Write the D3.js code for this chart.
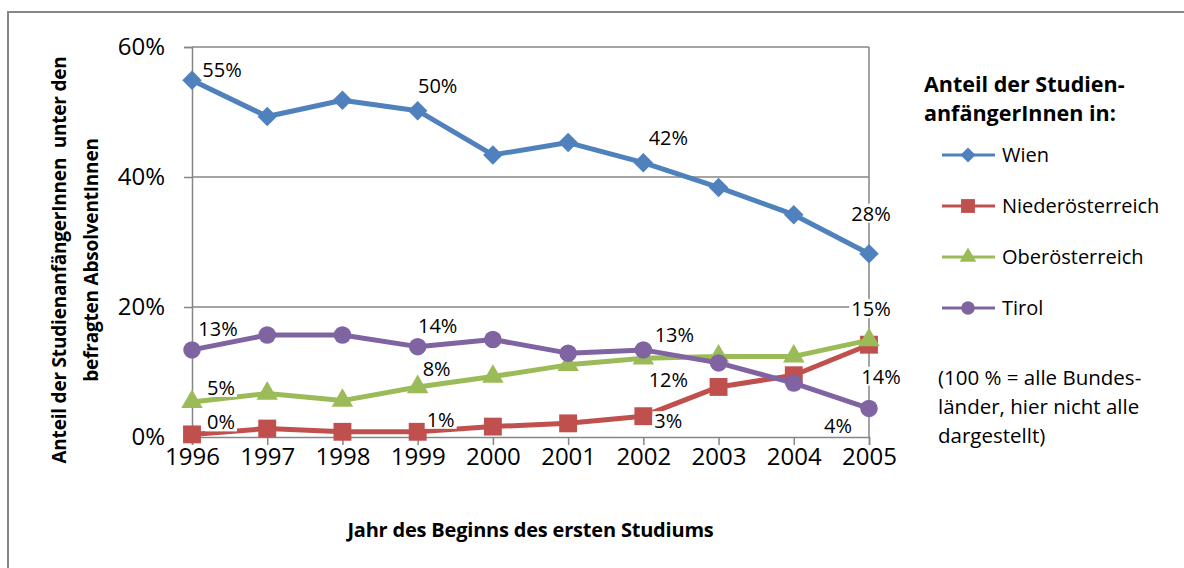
<!DOCTYPE html>
<html>
<head>
<meta charset="utf-8">
<script src="https://cdn.jsdelivr.net/npm/d3@7"></script>
<style>
  body { margin: 0; background: #fff; }
  svg text { font-family: "Open Sans", Lato, sans-serif; fill: #000; white-space: pre; }
</style>
</head>
<body>
<svg id="chart" width="1184" height="568"></svg>
<script>
/* data */
const years = [1996, 1997, 1998, 1999, 2000, 2001, 2002, 2003, 2004, 2005];
const yTicks = [0, 20, 40, 60];
const seriesNames = ["Wien", "Niederösterreich", "Oberösterreich", "Tirol"];
const wien = [54.9, 49.3, 51.8, 50.2, 43.4, 45.3, 42.2, 38.4, 34.2, 28.2];
const nieder = [0.4, 1.3, 0.8, 0.8, 1.6, 2.1, 3.2, 7.7, 9.5, 14.2];
const ober = [5.4, 6.7, 5.6, 7.7, 9.3, 11.1, 12.1, 12.4, 12.4, 14.9];
const tirol = [13.4, 15.7, 15.7, 13.9, 15.0, 12.9, 13.4, 11.4, 8.3, 4.4];

/* which points carry a label, with offsets of the label */
const labels = [
  { s: 0, i: 0, dx: 30, dy: -10 },
  { s: 0, i: 3, dx: 20, dy: -25 },
  { s: 0, i: 6, dx: 25, dy: -25 },
  { s: 0, i: 9, dx: 2, dy: -40 },
  { s: 1, i: 0, dx: 29, dy: -12 },
  { s: 1, i: 3, dx: 23, dy: -12 },
  { s: 1, i: 6, dx: 25, dy: 5 },
  { s: 1, i: 9, dx: 12, dy: 32 },
  { s: 2, i: 0, dx: 29, dy: -14 },
  { s: 2, i: 3, dx: 19, dy: -18 },
  { s: 2, i: 6, dx: 25, dy: 22 },
  { s: 2, i: 9, dx: 2, dy: -31 },
  { s: 3, i: 0, dx: 26, dy: -21 },
  { s: 3, i: 3, dx: 20, dy: -21 },
  { s: 3, i: 6, dx: 31, dy: -15 },
  { s: 3, i: 9, dx: -31, dy: 18 }
];

(function() {
  const allSeries = [wien, nieder, ober, tirol];
  const colors = ["#4F81BD", "#C0504D", "#9BBB59", "#8064A2"];
  const symbols = [d3.symbolSquare, d3.symbolSquare, d3.symbolTriangle, d3.symbolCircle];
  const symRot = [45, 0, 0, 0];
  const symSize = [190, 320, 200, 240];

  const svg = d3.select("#chart");
  const margin = { left: 192, right: 315, top: 47, bottom: 131 };
  const width = 1184 - margin.left - margin.right;
  const height = 568 - margin.top - margin.bottom;

  // outer chart border
  svg.append("rect")
    .attr("x", 8).attr("y", 12)
    .attr("width", 1200).attr("height", 600)
    .attr("fill", "none")
    .attr("stroke", "#868686")
    .attr("stroke-width", 2);

  const g = svg.append("g")
    .attr("transform", "translate(" + margin.left + "," + margin.top + ")");

  const x = d3.scalePoint().domain(years).range([0, width]);
  const y = d3.scaleLinear().domain([0, 60]).range([height, 0]);

  // gridlines
  g.selectAll(".grid")
    .data(yTicks.filter(d => d > 0))
    .enter().append("line")
    .attr("x1", 0).attr("x2", width)
    .attr("y1", d => y(d)).attr("y2", d => y(d))
    .attr("stroke", "#868686").attr("stroke-width", 1.5);

  // right frame
  g.append("line")
    .attr("x1", width).attr("x2", width)
    .attr("y1", 0).attr("y2", height)
    .attr("stroke", "#868686").attr("stroke-width", 1.5);

  // y axis
  const yAxis = g.append("g")
    .call(d3.axisLeft(y).tickValues(yTicks).tickFormat(d => d + "%").tickSize(8).tickPadding(19));
  yAxis.select(".domain").attr("stroke", "#868686").attr("stroke-width", 1.5);
  yAxis.selectAll(".tick line").attr("stroke", "#868686").attr("stroke-width", 1.5);
  yAxis.selectAll("text").style("font-size", "24px").attr("fill", "#000");

  // x axis
  const xAxis = g.append("g")
    .attr("transform", "translate(0," + height + ")")
    .call(d3.axisBottom(x).tickSize(8).tickPadding(3));
  xAxis.select(".domain").attr("stroke", "#868686").attr("stroke-width", 1.5);
  xAxis.selectAll(".tick line").attr("stroke", "#868686").attr("stroke-width", 1.5);
  xAxis.selectAll("text").style("font-size", "24px").attr("fill", "#000");

  // lines and markers
  const line = d3.line()
    .x((d, i) => x(years[i]))
    .y(d => y(d));

  allSeries.forEach((s, k) => {
    g.append("path")
      .datum(s)
      .attr("d", line)
      .attr("fill", "none")
      .attr("stroke", colors[k])
      .attr("stroke-width", 5)
      .attr("stroke-linejoin", "round");

    g.selectAll(".m" + k)
      .data(s)
      .enter().append("path")
      .attr("class", "m" + k)
      .attr("transform", (d, i) => "translate(" + x(years[i]) + "," + y(d) + ") rotate(" + symRot[k] + ")")
      .attr("d", d3.symbol().type(symbols[k]).size(symSize[k]))
      .attr("fill", colors[k]);
  });

  // data labels (white background like the original)
  labels.forEach(l => {
    const v = allSeries[l.s][l.i];
    const lx = x(years[l.i]) + l.dx;
    const ly = y(v) + l.dy;
    const t = g.append("text")
      .attr("x", lx).attr("y", ly)
      .attr("text-anchor", "middle")
      .attr("dy", "0.35em")
      .style("font-size", "20px")
      .text(Math.round(v) + "%");
    const bb = t.node().getBBox();
    g.insert("rect", function() { return t.node(); })
      .attr("x", bb.x - 2).attr("y", bb.y + 4)
      .attr("width", bb.width + 4).attr("height", bb.height - 8)
      .attr("fill", "#fff");
  });

  // axis titles
  svg.append("text")
    .attr("x", margin.left + width / 2)
    .attr("y", 537)
    .attr("text-anchor", "middle")
    .style("font-size", "20px")
    .style("font-weight", "bold")
    .style("letter-spacing", "-0.2px")
    .text("Jahr des Beginns des ersten Studiums");

  const yt = svg.append("text")
    .attr("transform", "translate(66,260) rotate(-90)")
    .attr("text-anchor", "middle")
    .style("font-size", "19px")
    .style("font-weight", "bold")
    .style("letter-spacing", "-0.2px");
  yt.append("tspan").attr("x", 0).attr("y", 0).text("Anteil der StudienanfängerInnen  unter den");
  yt.append("tspan").attr("x", 0).attr("y", 32).text("befragten AbsolventInnen");

  // legend
  const lg = svg.append("g").attr("transform", "translate(924,0)");
  lg.append("text").attr("x", 0).attr("y", 92)
    .style("font-size", "21.5px").style("font-weight", "bold")
    .text("Anteil der Studien-");
  lg.append("text").attr("x", 0).attr("y", 121)
    .style("font-size", "21.5px").style("font-weight", "bold")
    .text("anfängerInnen in:");

  const legendY = d3.scalePoint().domain(seriesNames).range([155, 308]);
  seriesNames.forEach((n, k) => {
    const ly = legendY(n);
    lg.append("line")
      .attr("x1", 18).attr("x2", 71)
      .attr("y1", ly).attr("y2", ly)
      .attr("stroke", colors[k]).attr("stroke-width", 3);
    lg.append("path")
      .attr("transform", "translate(44," + ly + ") rotate(" + symRot[k] + ")")
      .attr("d", d3.symbol().type(symbols[k]).size(symSize[k] * 0.6))
      .attr("fill", colors[k]);
    lg.append("text")
      .attr("x", 78).attr("y", ly).attr("dy", "0.35em")
      .style("font-size", "20px").text(n);
  });

  const note = ["(100 % = alle Bundes-", "länder, hier nicht alle", "dargestellt)"];
  lg.selectAll(".note")
    .data(note)
    .enter().append("text")
    .attr("x", 14)
    .attr("y", (d, i) => 385 + i * 29)
    .style("font-size", "20.5px")
    .text(d => d);
})();
</script>
</body>
</html>
